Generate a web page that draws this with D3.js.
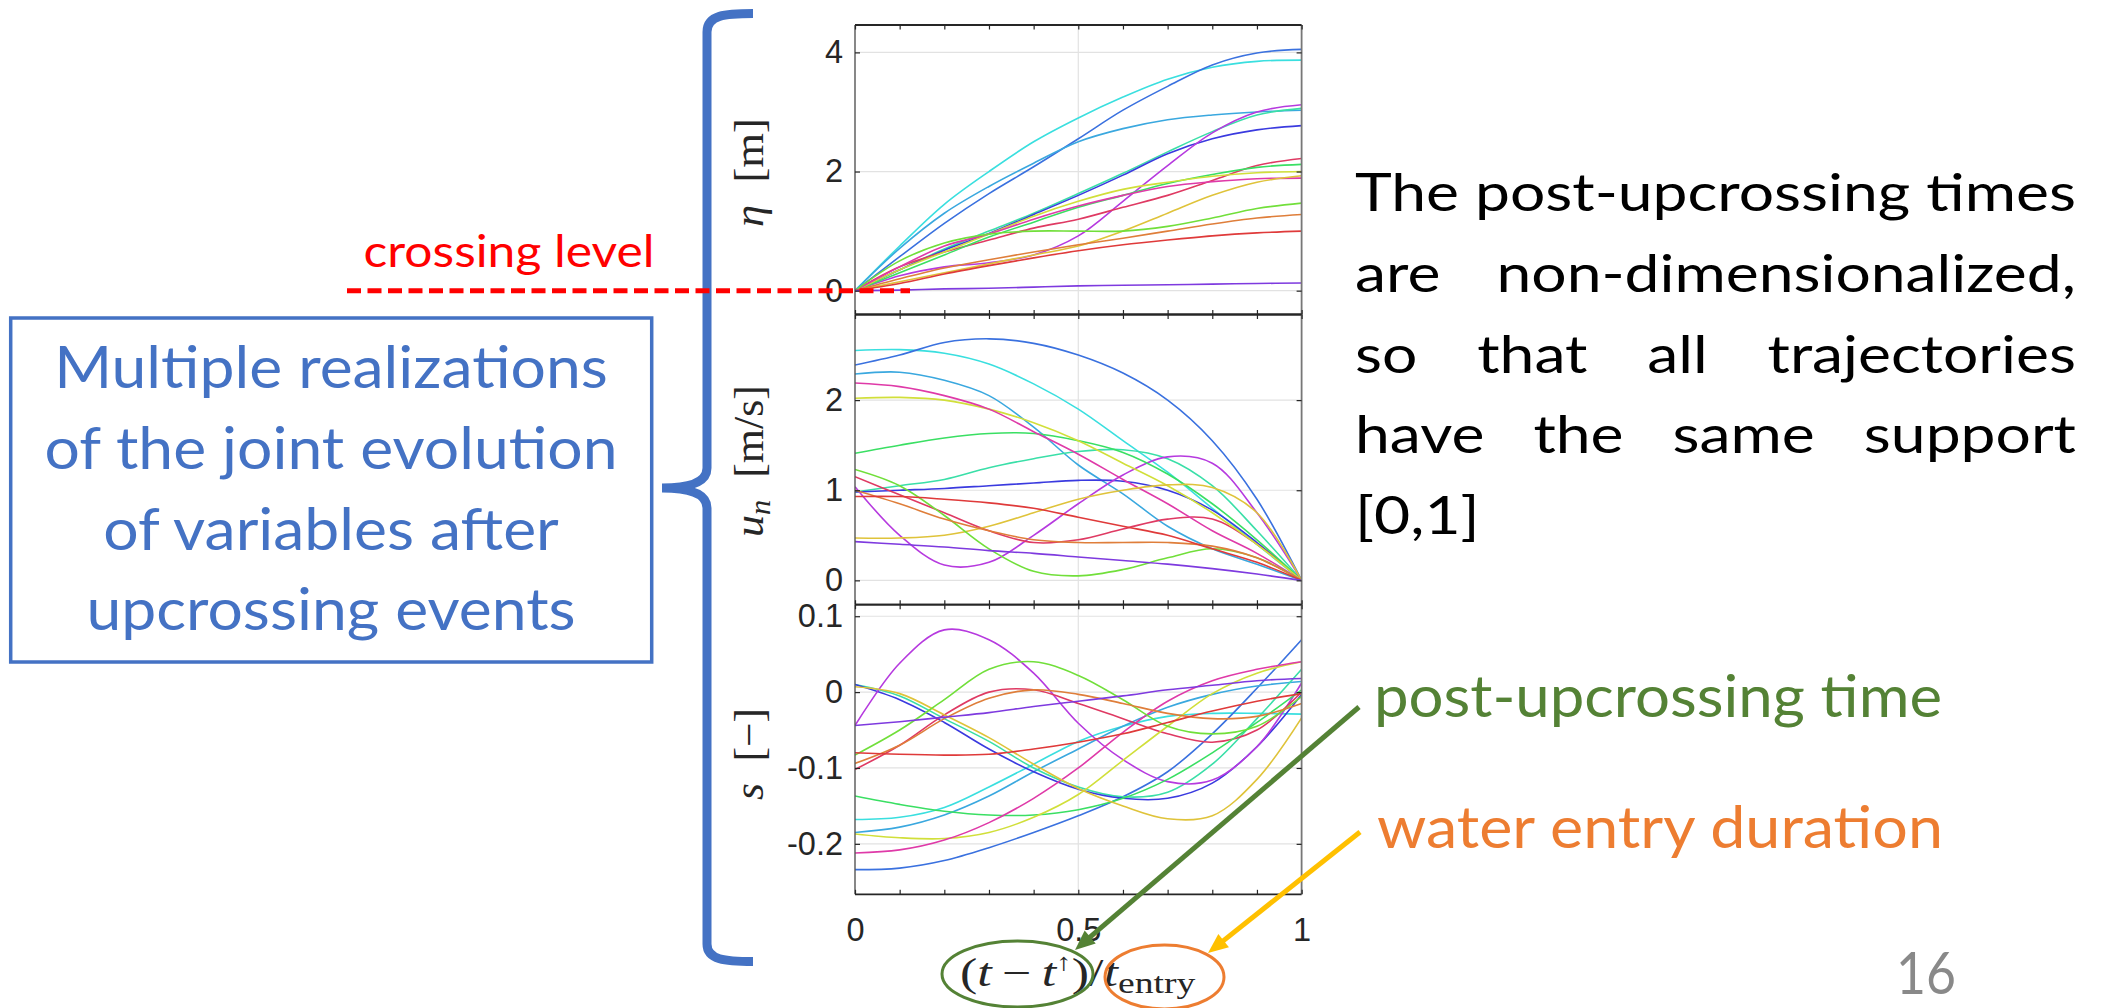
<!DOCTYPE html>
<html>
<head>
<meta charset="utf-8">
<script src="https://cdn.jsdelivr.net/npm/d3@7"></script>
<style>
html, body { margin: 0; padding: 0; background: #fff; }
svg { display: block; }
</style>
</head>
<body>
<svg id="slide"></svg>
<script>
// normalized post-upcrossing time (t - t_up) / t_entry
var tGrid = [0, 0.1, 0.2, 0.3, 0.4, 0.5, 0.6, 0.7, 0.8, 0.9, 1];

// one hue per realization (matlab hsv-like colours)
// cyan, blue, light blue, spring green, dark blue, purple, crimson, green,
// yellow, magenta, gold, lime, orange, red, violet
var realizationHues = [180, 220, 200, 160, 240, 285, 345, 135, 65, 320, 50, 100, 25, 0, 265];

// eta [m]
var etaSeries = [
    [0, 0.75, 1.45, 2.0, 2.5, 2.9, 3.25, 3.55, 3.75, 3.85, 3.87],
    [0, 0.57, 1.13, 1.63, 2.08, 2.55, 3.03, 3.43, 3.79, 3.99, 4.05],
    [0, 0.71, 1.3, 1.75, 2.14, 2.5, 2.72, 2.87, 2.95, 3.0, 3.03],
    [0, 0.35, 0.7, 1.0, 1.3, 1.63, 1.97, 2.33, 2.67, 2.95, 3.06],
    [0, 0.35, 0.68, 0.96, 1.28, 1.6, 1.94, 2.3, 2.55, 2.7, 2.77],
    [0, 0.25, 0.4, 0.47, 0.6, 0.92, 1.5, 2.1, 2.65, 3.0, 3.12],
    [0, 0.4, 0.65, 0.85, 1.05, 1.2, 1.4, 1.6, 1.85, 2.1, 2.22],
    [0, 0.3, 0.6, 0.9, 1.15, 1.4, 1.6, 1.8, 1.95, 2.07, 2.12],
    [0, 0.35, 0.65, 0.95, 1.25, 1.5, 1.7, 1.82, 1.92, 1.98, 2.0],
    [0, 0.4, 0.75, 0.95, 1.2, 1.42, 1.6, 1.75, 1.83, 1.88, 1.89],
    [0, 0.15, 0.3, 0.45, 0.6, 0.75, 1.0, 1.3, 1.6, 1.82, 1.93],
    [0, 0.5, 0.8, 0.95, 1.0, 1.0, 1.0, 1.08, 1.22, 1.38, 1.47],
    [0, 0.2, 0.38, 0.52, 0.65, 0.77, 0.88, 1.0, 1.12, 1.22, 1.28],
    [0, 0.12, 0.28, 0.42, 0.55, 0.67, 0.77, 0.85, 0.92, 0.97, 1.0],
    [0, 0.01, 0.03, 0.04, 0.06, 0.08, 0.09, 0.1, 0.11, 0.12, 0.13]
];

// u_n [m/s]
var unSeries = [
    [2.55, 2.56, 2.52, 2.4, 2.18, 1.9, 1.55, 1.2, 0.8, 0.4, 0],
    [2.39, 2.5, 2.64, 2.68, 2.63, 2.5, 2.3, 2.0, 1.55, 0.9, 0],
    [2.29, 2.31, 2.22, 2.05, 1.7, 1.28, 0.96, 0.6, 0.35, 0.18, 0],
    [0.98, 1.05, 1.12, 1.25, 1.35, 1.43, 1.45, 1.35, 1.05, 0.55, 0],
    [0.98, 1.0, 1.02, 1.05, 1.08, 1.11, 1.1, 1.0, 0.78, 0.42, 0],
    [1.04, 0.5, 0.17, 0.2, 0.5, 0.85, 1.17, 1.37, 1.3, 0.75, 0],
    [1.15, 0.95, 0.75, 0.55, 0.42, 0.45, 0.57, 0.68, 0.68, 0.4, 0],
    [1.41, 1.5, 1.58, 1.63, 1.63, 1.55, 1.42, 1.18, 0.85, 0.45, 0],
    [2.02, 2.03, 2.0, 1.9, 1.75, 1.55, 1.3, 1.05, 0.75, 0.4, 0],
    [2.19, 2.15, 2.05, 1.9, 1.65, 1.4, 1.12, 0.85, 0.55, 0.3, 0],
    [0.47, 0.47, 0.5, 0.6, 0.75, 0.9, 1.0, 1.06, 1.03, 0.75, 0],
    [1.23, 1.05, 0.72, 0.35, 0.1, 0.05, 0.12, 0.25, 0.35, 0.25, 0],
    [1.0, 0.85, 0.68, 0.55, 0.45, 0.42, 0.42, 0.42, 0.38, 0.25, 0],
    [0.93, 0.93, 0.9, 0.86, 0.8, 0.7, 0.6, 0.5, 0.35, 0.2, 0],
    [0.43, 0.4, 0.37, 0.33, 0.3, 0.26, 0.22, 0.18, 0.13, 0.07, 0]
];

// s [-]
var sSeries = [
    [-0.168, -0.165, -0.152, -0.125, -0.095, -0.065, -0.045, -0.032, -0.028, -0.028, -0.029],
    [-0.234, -0.232, -0.222, -0.205, -0.185, -0.163, -0.138, -0.105, -0.055, 0.005, 0.069],
    [-0.185, -0.178, -0.162, -0.137, -0.105, -0.075, -0.045, -0.02, -0.003, 0.008, 0.014],
    [0.01, -0.005, -0.035, -0.065, -0.1, -0.125, -0.138, -0.132, -0.095, -0.035, 0.03],
    [0.01, -0.01, -0.04, -0.075, -0.105, -0.128, -0.14, -0.14, -0.12, -0.072, -0.003],
    [-0.044, 0.038, 0.082, 0.069, 0.025, -0.041, -0.089, -0.118, -0.116, -0.072, 0.012],
    [-0.102, -0.07, -0.03, 0.0, 0.003, -0.015, -0.035, -0.055, -0.066, -0.05, 0.0],
    [-0.137, -0.148, -0.157, -0.162, -0.162, -0.155, -0.14, -0.115, -0.08, -0.04, 0.003],
    [-0.187, -0.192, -0.193, -0.185, -0.165, -0.135, -0.09, -0.045, -0.002, 0.025, 0.04],
    [-0.212, -0.208, -0.195, -0.172, -0.14, -0.1, -0.053, -0.012, 0.015, 0.03, 0.04],
    [0.007, -0.002, -0.03, -0.06, -0.095, -0.127, -0.15, -0.167, -0.163, -0.115, -0.034],
    [-0.083, -0.05, -0.01, 0.03, 0.04, 0.022, -0.01, -0.045, -0.055, -0.045, -0.006],
    [-0.094, -0.07, -0.035, -0.008, 0.003, -0.003, -0.015, -0.028, -0.035, -0.032, -0.015],
    [-0.08, -0.082, -0.083, -0.082, -0.075, -0.066, -0.055, -0.04, -0.025, -0.012, -0.002],
    [-0.044, -0.039, -0.033, -0.027, -0.019, -0.012, -0.005, 0.003, 0.009, 0.015, 0.018]
];

var etaDomain = [-0.4, 4.46];
var unDomain = [-0.27, 2.95];
var sDomain = [-0.2665, 0.1152];
var etaTicks = [0, 2, 4];
var unTicks = [0, 1, 2];
var sTicks = [-0.2, -0.1, 0, 0.1];
var xTickLabels = [0, 0.5, 1];
var xTickMarks = [0, 0.1, 0.2, 0.3, 0.4, 0.5, 0.6, 0.7, 0.8, 0.9, 1];

var boxLines = ['Multiple realizations', 'of the joint evolution', 'of variables after', 'upcrossing events'];
var noteLines = ['The post-upcrossing times', 'are non-dimensionalized,', 'so that all trajectories', 'have the same support', '[0,1]'];

var BLUE = '#4472C4', GREEN = '#548235', ORANGE = '#ED7D31', GOLD = '#FFC000';
var INK = '#262626';
var SERIF = '"Liberation Serif", "DejaVu Serif", serif';
var SANS = '"Liberation Sans", Arial, sans-serif';
var BODY = 'Lato, "Open Sans", sans-serif';

var svg = d3.select('#slide').attr('width', 2105).attr('height', 1008);
svg.append('rect').attr('width', 2105).attr('height', 1008).attr('fill', '#fff');

function hueColor(h) {
    return d3.hsl(h, 0.72, 0.55).toString();
}

// squeeze/stretch a plain text element to a given width
function fit(sel, w) {
    return sel.attr('textLength', w).attr('lengthAdjust', 'spacingAndGlyphs');
}

function textWidth(parent, str) {
    var t = parent.append('text').text(str);
    var w = t.node().getComputedTextLength();
    t.remove();
    return w;
}

// tick label size: "-0.2" is about 56px wide in the slide
var probe = svg.append('g').attr('font-family', SANS).attr('font-size', 32);
var tickFont = 32 * 56 / textWidth(probe, '-0.2');
probe.remove();

var x = d3.scaleLinear().domain([0, 1]).range([855, 1301.6]);

var panels = [
    { series: etaSeries, domain: etaDomain, ticks: etaTicks, top: 25, bottom: 314.5 },
    { series: unSeries, domain: unDomain, ticks: unTicks, top: 314.5, bottom: 604.7 },
    { series: sSeries, domain: sDomain, ticks: sTicks, top: 604.7, bottom: 894.3 }
];

function styleAxis(g) {
    g.select('.domain').remove();
    g.attr('font-family', SANS).attr('font-size', tickFont);
    g.selectAll('.tick line').attr('stroke', INK).attr('stroke-width', 1.2);
    g.selectAll('.tick text').attr('fill', INK).attr('font-size', tickFont);
}

panels.forEach(function(p, k) {
    var y = d3.scaleLinear().domain(p.domain).range([p.bottom, p.top]);
    p.y = y;
    var g = svg.append('g').attr('class', 'panel-' + k);

    // grid
    g.selectAll('.hgrid')
        .data(p.ticks)
        .enter()
        .append('line')
        .attr('x1', x(0)).attr('x2', x(1))
        .attr('y1', function(d) { return y(d); })
        .attr('y2', function(d) { return y(d); })
        .attr('stroke', '#e2e2e2').attr('stroke-width', 1.2);
    g.append('line')
        .attr('x1', x(0.5)).attr('x2', x(0.5))
        .attr('y1', p.top).attr('y2', p.bottom)
        .attr('stroke', '#e2e2e2').attr('stroke-width', 1.2);

    // trajectories
    svg.append('clipPath').attr('id', 'clip' + k)
        .append('rect')
        .attr('x', x(0)).attr('y', p.top)
        .attr('width', x(1) - x(0)).attr('height', p.bottom - p.top);
    var line = d3.line()
        .x(function(d, i) { return x(tGrid[i]); })
        .y(function(d) { return y(d); })
        .curve(d3.curveCatmullRom.alpha(0.5));
    g.append('g')
        .attr('clip-path', 'url(#clip' + k + ')')
        .selectAll('path')
        .data(p.series)
        .enter()
        .append('path')
        .attr('d', line)
        .attr('fill', 'none')
        .attr('stroke', function(d, i) { return hueColor(realizationHues[i]); })
        .attr('stroke-width', 1.6);

    // box
    g.append('line').attr('x1', x(0)).attr('x2', x(0)).attr('y1', p.top).attr('y2', p.bottom)
        .attr('stroke', '#555').attr('stroke-width', 1.4);
    g.append('line').attr('x1', x(1)).attr('x2', x(1)).attr('y1', p.top).attr('y2', p.bottom)
        .attr('stroke', '#777').attr('stroke-width', 1.8);
    g.append('line').attr('x1', x(0)).attr('x2', x(1)).attr('y1', p.top).attr('y2', p.top)
        .attr('stroke', INK).attr('stroke-width', 1.8);
    g.append('line').attr('x1', x(0)).attr('x2', x(1)).attr('y1', p.bottom).attr('y2', p.bottom)
        .attr('stroke', INK).attr('stroke-width', 1.8);

    // axes (ticks pointing inward, like matlab)
    g.append('g')
        .attr('transform', 'translate(' + x(0) + ',0)')
        .call(d3.axisLeft(y).tickValues(p.ticks).tickSize(-5).tickPadding(12)
            .tickFormat(function(d) { return String(d); }))
        .call(styleAxis);
    g.append('g')
        .attr('transform', 'translate(' + x(1) + ',0)')
        .call(d3.axisRight(y).tickValues(p.ticks).tickSize(-5).tickFormat(''))
        .call(styleAxis);
    g.append('g')
        .attr('transform', 'translate(0,' + p.top + ')')
        .call(d3.axisTop(x).tickValues(xTickMarks).tickSize(-4.5).tickFormat(''))
        .call(styleAxis);
    g.append('g')
        .attr('transform', 'translate(0,' + p.bottom + ')')
        .call(d3.axisBottom(x).tickValues(xTickMarks).tickSize(-4.5).tickFormat(''))
        .call(styleAxis);
});

// x tick labels under the last panel
svg.append('g')
    .attr('transform', 'translate(0,' + panels[2].bottom + ')')
    .call(d3.axisBottom(x).tickValues(xTickLabels).tickSize(0).tickPadding(24)
        .tickFormat(function(d) { return String(d); }))
    .call(styleAxis);

// latex-like labels: built from tspans, then scaled to the measured length
function mathLabel(parts, fontSize) {
    var t = svg.append('text').attr('font-family', SERIF).attr('font-size', fontSize).attr('fill', INK);
    parts.forEach(function(pt) {
        var s = t.append('tspan').text(pt.text);
        if (pt.italic) s.attr('font-style', 'italic');
        if (pt.size) s.attr('font-size', pt.size);
        if (pt.dy) s.attr('dy', pt.dy);
    });
    return t;
}
function placeRotated(t, cx, cy, len) {
    var bb = t.node().getBBox();
    var sx = len / bb.width;
    t.attr('text-anchor', 'start')
        .attr('transform', 'translate(' + cx + ',' + cy + ') rotate(-90) scale(' + sx + ',1) translate(' + (-bb.x - bb.width / 2) + ',0)');
}

var lab1 = mathLabel([{ text: 'η', italic: true }, { text: '\u2002[m]' }], 42);
placeRotated(lab1, 763, 172.5, 109);
var lab2 = mathLabel([{ text: 'u', italic: true }, { text: 'n', italic: true, size: 29, dy: 7 }, { text: '\u2002[m/s]', dy: -7 }], 42);
placeRotated(lab2, 763, 461, 152);
var lab3 = mathLabel([{ text: 's', italic: true }, { text: '\u2002[\u2212]' }], 42);
placeRotated(lab3, 763, 754, 92);

// x label
var xLab = mathLabel([
    { text: '(' }, { text: 't', italic: true }, { text: '\u2009\u2212\u2009' },
    { text: 't', italic: true }, { text: '\u2191', size: 24, dy: -16 },
    { text: ')/', dy: 16 }, { text: 't', italic: true }, { text: 'entry', size: 29, dy: 7 }
], 40);
var xbb = xLab.node().getBBox();
xLab.attr('transform', 'translate(960,986) scale(' + (236 / xbb.width) + ',1) translate(' + (-xbb.x) + ',0)');

// ellipses around the parts of the x label
svg.append('ellipse').attr('cx', 1017.5).attr('cy', 974).attr('rx', 75.5).attr('ry', 33)
    .attr('fill', 'none').attr('stroke', GREEN).attr('stroke-width', 3);
svg.append('ellipse').attr('cx', 1164.5).attr('cy', 977).attr('rx', 59.5).attr('ry', 32)
    .attr('fill', 'none').attr('stroke', ORANGE).attr('stroke-width', 3);

// arrows
function arrow(x1, y1, x2, y2, color) {
    var dx = x2 - x1, dy = y2 - y1;
    var len = Math.sqrt(dx * dx + dy * dy);
    var ux = dx / len, uy = dy / len;
    var hl = 20, hw = 8.5;
    var bx = x2 - ux * hl, by = y2 - uy * hl;
    svg.append('line')
        .attr('x1', x1).attr('y1', y1)
        .attr('x2', bx + ux * 3).attr('y2', by + uy * 3)
        .attr('stroke', color).attr('stroke-width', 5);
    svg.append('path')
        .attr('d', 'M' + x2 + ',' + y2 +
            'L' + (bx - uy * hw) + ',' + (by + ux * hw) +
            'L' + (bx + uy * hw) + ',' + (by - ux * hw) + 'Z')
        .attr('fill', color);
}
arrow(1359, 707, 1075, 950, GREEN);
arrow(1360, 832, 1208, 953, GOLD);

// brace
svg.append('path')
    .attr('d', 'M753,13.5 C725,13.5 707,15 707,32 L707,468 Q707,488 662,488 Q707,488 707,508 L707,944 C707,960 725,961.5 753,961.5')
    .attr('fill', 'none').attr('stroke', BLUE).attr('stroke-width', 9);

// left box
svg.append('rect')
    .attr('x', 10.7).attr('y', 318).attr('width', 641).attr('height', 344)
    .attr('fill', '#fff').attr('stroke', BLUE).attr('stroke-width', 3.5);
var boxText = svg.append('g').attr('font-family', BODY).attr('font-size', 58).attr('fill', BLUE);
var boxSx = 573 / textWidth(boxText, boxLines[1]);
boxLines.forEach(function(s, i) {
    boxText.append('text')
        .attr('text-anchor', 'middle')
        .attr('transform', 'translate(331,' + (388.3 + i * 80.6) + ') scale(' + boxSx + ',1)')
        .text(s);
});

// right note, justified
var note = svg.append('g').attr('font-family', BODY).attr('font-size', 53).attr('fill', '#000');
var noteX0 = 1355, noteW = 721;
var noteSx = noteW / textWidth(note, noteLines[0]);
var spaceW = textWidth(note, 'a b') - textWidth(note, 'ab');
noteLines.forEach(function(s, i) {
    var words = s.split(' ');
    var widths = words.map(function(w) { return textWidth(note, w) * noteSx; });
    var total = d3.sum(widths);
    var last = i === noteLines.length - 1;
    var gap = (last || words.length < 2) ? spaceW * noteSx : (noteW - total) / (words.length - 1);
    var cx = noteX0;
    words.forEach(function(w, j) {
        note.append('text')
            .attr('transform', 'translate(' + cx + ',' + (211 + i * 80.8) + ') scale(' + noteSx + ',1)')
            .text(w);
        cx += widths[j] + gap;
    });
});

// callout labels
fit(svg.append('text').attr('x', 1374).attr('y', 717)
    .attr('font-family', BODY).attr('font-size', 58).attr('fill', GREEN)
    .text('post-upcrossing time'), 568);
fit(svg.append('text').attr('x', 1377).attr('y', 848)
    .attr('font-family', BODY).attr('font-size', 58).attr('fill', ORANGE)
    .text('water entry duration'), 566);

// slide number (kept fully inside the frame)
fit(svg.append('text').attr('x', 1896).attr('y', 994)
    .attr('font-family', BODY).attr('font-size', 58).attr('fill', '#898989')
    .text('16'), 60);

// crossing level marker
fit(svg.append('text').attr('x', 363.5).attr('y', 267)
    .attr('font-family', BODY).attr('font-size', 45).attr('fill', '#ff0000')
    .text('crossing level'), 291);
svg.append('line')
    .attr('x1', 347).attr('x2', 910)
    .attr('y1', panels[0].y(0)).attr('y2', panels[0].y(0))
    .attr('stroke', '#ff0000').attr('stroke-width', 5)
    .attr('stroke-dasharray', '14,6.5');
</script>
</body>
</html>
